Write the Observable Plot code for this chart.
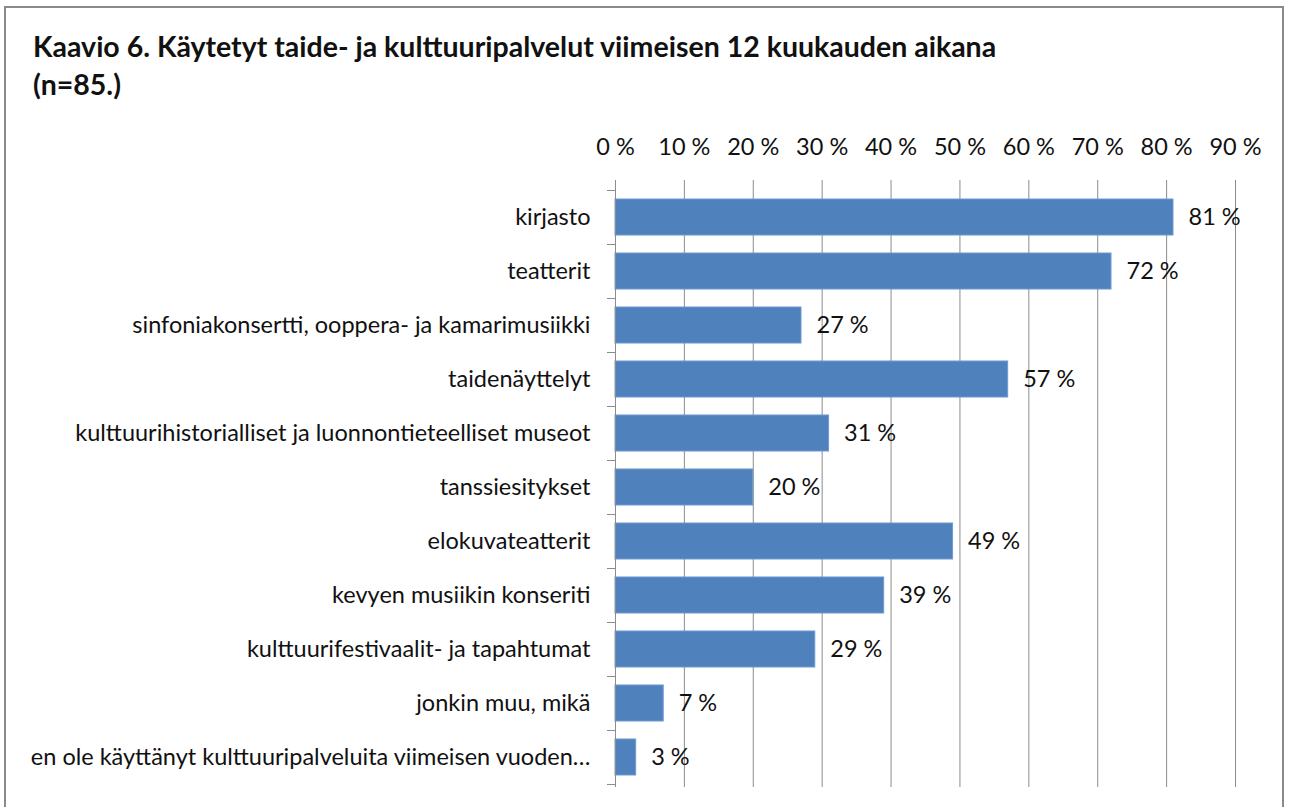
<!DOCTYPE html>
<html>
<head>
<meta charset="utf-8">
<script src="https://cdn.jsdelivr.net/npm/d3@7"></script>
<script src="https://cdn.jsdelivr.net/npm/@observablehq/plot@0.6"></script>
<style>
  html, body { margin: 0; padding: 0; background: #fff; width: 1290px; height: 807px; overflow: hidden; }
  body { position: relative; font-family: Lato, "Open Sans", sans-serif; color: #111; }
  #frame { position: absolute; left: 4px; top: 6px; width: 1280px; height: 830px; border: 2px solid #8a8a8a; box-sizing: border-box; pointer-events: none; }
  #title { position: absolute; left: 33px; top: 27px; font-weight: bold; font-size: 28.5px; line-height: 38px; color: #111; white-space: nowrap; }
  #chart { position: absolute; left: 0; top: 0; }
</style>
</head>
<body>
<div id="chart"></div>
<div id="frame"></div>
<div id="title">Kaavio 6. Käytetyt taide- ja kulttuuripalvelut viimeisen 12 kuukauden aikana<br>(n=85.)</div>
<script>
const categories = [
  "kirjasto",
  "teatterit",
  "sinfoniakonsertti, ooppera- ja kamarimusiikki",
  "taidenäyttelyt",
  "kulttuurihistorialliset ja luonnontieteelliset museot",
  "tanssiesitykset",
  "elokuvateatterit",
  "kevyen musiikin konseriti",
  "kulttuurifestivaalit- ja tapahtumat",
  "jonkin muu, mikä",
  "en ole käyttänyt kulttuuripalveluita viimeisen vuoden…"
];
const values = [81, 72, 27, 57, 31, 20, 49, 39, 29, 7, 3];
const xTicks = [0, 10, 20, 30, 40, 50, 60, 70, 80, 90];

const data = categories.map((c, i) => ({category: c, value: values[i]}));
const fmt = d => d + " %";
const FS = 23.5;

const chart = Plot.plot({
  width: 1290,
  height: 807,
  marginLeft: 615,
  marginRight: 55,
  marginTop: 190,
  marginBottom: 23,
  style: {fontFamily: "Lato, 'Open Sans', sans-serif", fontSize: FS + "px", color: "#111", background: "transparent", overflow: "visible"},
  x: {domain: [0, 90], axis: null, label: null},
  y: {domain: categories, paddingInner: 0.333, paddingOuter: 0.1667, round: false, axis: null, label: null},
  marks: [
    Plot.ruleX(xTicks.filter(d => d > 0), {stroke: "#8c8c8c", strokeOpacity: 1, strokeWidth: 1, insetTop: -10, insetBottom: -3}),
    Plot.barX(data, {y: "category", x: "value", fill: "#4f81bd", stroke: "#6d9ad3", strokeWidth: 1}),
    Plot.ruleX([0], {stroke: "#8c8c8c", strokeWidth: 1, insetTop: -10, insetBottom: -3}),
    Plot.axisX(xTicks, {anchor: "top", label: null, tickSize: 0, tickPadding: 36, tickFormat: fmt, fontSize: FS, fill: "#111"}),
    Plot.axisY({anchor: "left", label: null, tickSize: 0, tickPadding: 25, fontSize: FS, fill: "#111", textAnchor: "end"}),
    Plot.axisY({anchor: "left", label: null, tickSize: 8, tickFormat: () => "", dy: -27, stroke: "#8c8c8c"}),
    Plot.axisY([categories[categories.length - 1]], {anchor: "left", label: null, tickSize: 8, tickFormat: () => "", dy: 27, stroke: "#8c8c8c"}),
    Plot.text(data, {y: "category", x: "value", text: d => fmt(d.value), dx: 15, textAnchor: "start", fontSize: FS, fill: "#111"})
  ]
});
document.getElementById("chart").appendChild(chart);
</script>
</body>
</html>
